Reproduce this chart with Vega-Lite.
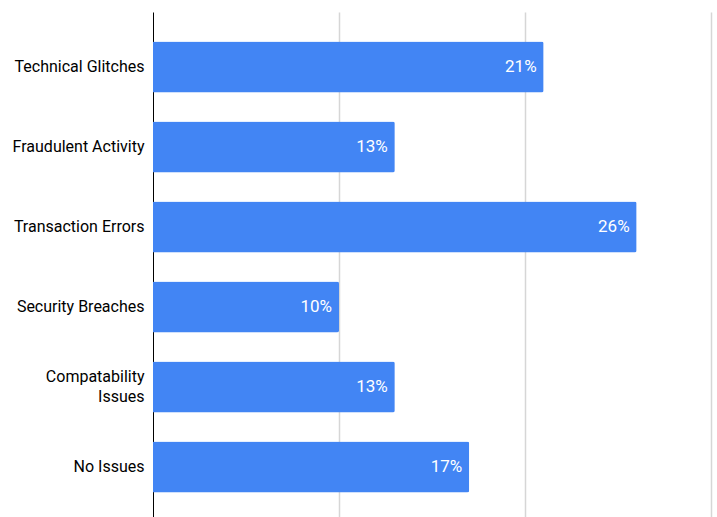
{
  "$schema": "https://vega.github.io/schema/vega-lite/v6.json",
  "width": 558,
  "height": 510,
  "autosize": "none",
  "padding": {"left": 153, "top": 12, "right": 6, "bottom": 0},
  "background": "white",
  "config": {"view": {"stroke": null}},
  "data": {"values": [
    {"category": "Technical Glitches", "value": 0.21},
    {"category": "Fraudulent Activity", "value": 0.13},
    {"category": "Transaction Errors", "value": 0.26},
    {"category": "Security Breaches", "value": 0.10},
    {"category": "Compatability Issues", "value": 0.13},
    {"category": "No Issues", "value": 0.17}
  ]},
  "encoding": {
    "y": {
      "field": "category", "type": "nominal", "sort": null,
      "scale": {"paddingInner": 0.36, "paddingOuter": 0.3675},
      "axis": {
        "title": null, "ticks": false, "domain": true, "domainColor": "#000000", "domainWidth": 1,
        "labelFont": "Roboto", "labelFontSize": 16, "labelColor": "#000000",
        "labelPadding": 9, "labelLineHeight": 20, "labelLimit": 200,
        "labelOffset": {"condition": {"test": "datum.label == 'Compatability Issues'", "value": -10}, "value": 0},
        "labelExpr": "datum.label == 'Compatability Issues' ? ['Compatability', 'Issues'] : datum.label"
      }
    },
    "x": {
      "field": "value", "type": "quantitative",
      "scale": {"domain": [0, 0.3], "nice": false},
      "axis": {"title": null, "labels": false, "ticks": false, "domain": false, "grid": true,
        "gridColor": "#d6d6d6", "gridWidth": 1.5, "values": [0.1, 0.2, 0.3]}
    }
  },
  "layer": [
    {"mark": {"type": "bar", "color": "#4285f4", "cornerRadiusEnd": 2}},
    {
      "mark": {"type": "text", "align": "right", "dx": -7, "color": "white",
        "font": "Roboto", "fontSize": 17},
      "encoding": {"text": {"field": "value", "type": "quantitative", "format": ".0%"}}
    }
  ]
}
